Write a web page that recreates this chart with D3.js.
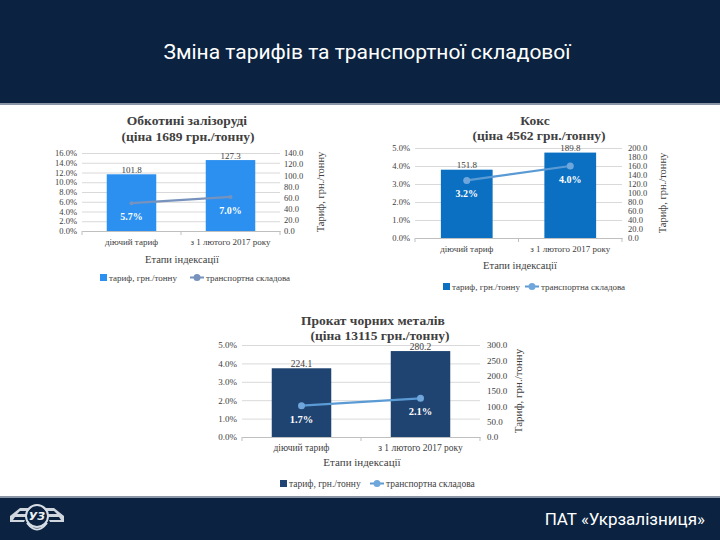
<!DOCTYPE html>
<html><head><meta charset="utf-8">
<script src="https://cdn.jsdelivr.net/npm/d3@7"></script>
<style>
html,body{margin:0;padding:0;background:#fff;}
svg{display:block;}
</style></head>
<body>
<svg id="c" width="720" height="540"></svg>
<script>
// ---------- DATA ----------
const pageTitle = "Зміна тарифів та транспортної складової";
const footerText = "ПАТ «Укрзалізниця»";
const categories = ["діючий тариф", "з 1 лютого 2017 року"];
const xAxisTitle = "Етапи індексації";
const yRightTitle = "Тариф, грн./тонну";
const legendBar = "тариф, грн./тонну";
const legendLine = "транспортна складова";

const titles1 = ["Обкотині залізоруді", "(ціна 1689 грн./тонну)"];
const tariff1 = [101.8, 127.3];
const share1 = [5.7, 7.0];
const leftTicks1 = [0, 2, 4, 6, 8, 10, 12, 14, 16];
const rightTicks1 = [0, 20, 40, 60, 80, 100, 120, 140];

const titles2 = ["Кокс", "(ціна 4562 грн./тонну)"];
const tariff2 = [151.8, 189.8];
const share2 = [3.2, 4.0];
const leftTicks2 = [0, 1, 2, 3, 4, 5];
const rightTicks2 = [0, 20, 40, 60, 80, 100, 120, 140, 160, 180, 200];

const titles3 = ["Прокат чорних металів", "(ціна 13115 грн./тонну)"];
const tariff3 = [224.1, 280.2];
const share3 = [1.7, 2.1];
const leftTicks3 = [0, 1, 2, 3, 4, 5];
const rightTicks3 = [0, 50, 100, 150, 200, 250, 300];

// ---------- PAGE ----------
const svg = d3.select("#c");
const NAVY = "#0b2340";
svg.append("rect").attr("x",0).attr("y",0).attr("width",720).attr("height",103).attr("fill",NAVY);
svg.append("rect").attr("x",0).attr("y",103).attr("width",720).attr("height",2).attr("fill","#8a96a6");
svg.append("text").attr("x",367).attr("y",59).attr("text-anchor","middle")
  .attr("font-family","Roboto, sans-serif").attr("font-size",21).attr("fill","#fff").text(pageTitle);

svg.append("rect").attr("x",0).attr("y",496).attr("width",720).attr("height",2).attr("fill","#8a96a6");
svg.append("rect").attr("x",0).attr("y",498).attr("width",720).attr("height",42).attr("fill",NAVY);
svg.append("text").attr("x",705).attr("y",525).attr("text-anchor","end")
  .attr("font-family","Roboto, sans-serif").attr("font-size",17).attr("fill","#fff").text(footerText);

// logo
const logo = svg.append("g");
logo.append("path").attr("d","M10,516 L20,508 L31,508 L28,511 L20,511 L17,514 L27,514 L26,517 L15,517 L13,520 L25,520 L24,522 L10,522 Z").attr("fill","#cfd6de");
logo.append("path").attr("d","M64,516 L54,508 L43,508 L46,511 L54,511 L57,514 L47,514 L48,517 L59,517 L61,520 L49,520 L50,522 L64,522 Z").attr("fill","#cfd6de");
logo.append("circle").attr("cx",37).attr("cy",516).attr("r",11).attr("fill","none").attr("stroke","#d7dde4").attr("stroke-width",2);
logo.append("path").attr("d","M27,523 Q37,536 47,523").attr("fill","none").attr("stroke","#d7dde4").attr("stroke-width",2);
logo.append("text").attr("x",37).attr("y",520).attr("text-anchor","middle").attr("font-family","DejaVu Sans, sans-serif")
  .attr("font-weight","bold").attr("font-style","italic").attr("font-size",11).attr("fill","#eef1f4").text("УЗ");

// ---------- CHART ----------
const SERIF = "'Liberation Serif', 'Times New Roman', serif";
const TXT = "#404040";

function drawChart(cfg, titles, tariff, share, leftTicks, rightTicks) {
  const g = svg.append("g");
  const x = d3.scaleBand().domain(categories).range([cfg.x0, cfg.x1]).paddingInner(0.5).paddingOuter(0.25);
  const xc = d3.scalePoint().domain(categories).range([cfg.x0, cfg.x1]).padding(0.5);
  const yL = d3.scaleLinear().domain([0, d3.max(leftTicks)]).range([cfg.yb, cfg.yt]);
  const yR = d3.scaleLinear().domain([0, d3.max(rightTicks)]).range([cfg.yb, cfg.yt]);

  // gridlines + left axis
  const ax = g.append("g").attr("transform", `translate(${cfg.x0},0)`)
    .call(d3.axisLeft(yL).tickValues(leftTicks).tickSize(-(cfg.x1 - cfg.x0)).tickPadding(5)
      .tickFormat(d => d.toFixed(1) + "%"));
  ax.select(".domain").remove();
  ax.selectAll(".tick line").attr("stroke", "#d9d9d9").attr("stroke-width", 1);
  ax.selectAll(".tick text").attr("font-family", SERIF).attr("font-size", cfg.fs).attr("fill", TXT);

  // right axis
  const ar = g.append("g").attr("transform", `translate(${cfg.x1},0)`)
    .call(d3.axisRight(yR).tickValues(rightTicks).tickSize(0).tickPadding(cfg.rpad).tickFormat(d => d.toFixed(1)));
  ar.select(".domain").remove();
  ar.selectAll(".tick text").attr("font-family", SERIF).attr("font-size", cfg.fs).attr("fill", TXT);

  // bars
  g.selectAll("rect.bar").data(tariff).join("rect").attr("class","bar")
    .attr("x", (d,i) => x(categories[i])).attr("width", x.bandwidth())
    .attr("y", d => yR(d)).attr("height", d => yR(0) - yR(d)).attr("fill", cfg.barColor);

  // bottom axis
  const ab = g.append("g").attr("transform", `translate(0,${cfg.yb})`)
    .call(d3.axisBottom(x).tickValues([]).tickSizeOuter(0));
  ab.select(".domain").attr("stroke", "#bfbfbf");
  [cfg.x0, (cfg.x0 + cfg.x1) / 2, cfg.x1].forEach(t =>
    g.append("line").attr("x1", t).attr("x2", t).attr("y1", cfg.yb).attr("y2", cfg.yb + 4).attr("stroke", "#bfbfbf"));
  g.selectAll("text.cat").data(categories).join("text").attr("class","cat")
    .attr("x", d => xc(d)).attr("y", cfg.yb + 14).attr("text-anchor","middle")
    .attr("font-family", SERIF).attr("font-size", cfg.fsCat).attr("fill", TXT).text(d => d);

  // bar labels
  g.selectAll("text.bl").data(tariff).join("text").attr("class","bl")
    .attr("x", (d,i) => xc(categories[i])).attr("y", d => yR(d) - 1.5).attr("text-anchor","middle")
    .attr("font-family", SERIF).attr("font-size", cfg.fs + 0.5).attr("fill", TXT).text(d => d.toFixed(1));

  // line
  const line = d3.line().x((d,i) => xc(categories[i])).y(d => yL(d));
  g.append("path").datum(share).attr("d", line).attr("fill","none").attr("stroke", cfg.lineColor).attr("stroke-width", 2.2);
  g.selectAll("circle.pt").data(share).join("circle").attr("class","pt")
    .attr("cx", (d,i) => xc(categories[i])).attr("cy", d => yL(d)).attr("r", cfg.mr)
    .attr("fill", cfg.markerColor);
  g.selectAll("text.pl").data(share).join("text").attr("class","pl")
    .attr("x", (d,i) => xc(categories[i])).attr("y", d => yL(d) + 17).attr("text-anchor","middle")
    .attr("font-family", SERIF).attr("font-weight","bold").attr("font-size", cfg.fs + 1.5).attr("fill", "#fff")
    .text(d => d.toFixed(1) + "%");

  // titles
  titles.forEach((t, i) => g.append("text").attr("x", cfg.tx[i]).attr("y", cfg.ty[i]).attr("text-anchor","middle")
    .attr("font-family", SERIF).attr("font-weight","bold").attr("font-size", 13.5).attr("fill", TXT).text(t));

  // right axis title
  g.append("text").attr("transform", `translate(${cfg.rtx},${(cfg.yt + cfg.yb) / 2}) rotate(-90)`)
    .attr("text-anchor","middle").attr("dy","0.35em").attr("font-family", SERIF).attr("font-size", cfg.fsTitle)
    .attr("fill", TXT).text(yRightTitle);

  // x axis title
  g.append("text").attr("x", cfg.axtx).attr("y", cfg.axty).attr("text-anchor","middle")
    .attr("font-family", SERIF).attr("font-size", cfg.fsTitle).attr("fill", TXT).text(xAxisTitle);

  // legend
  g.append("rect").attr("x", cfg.lgx).attr("y", cfg.lgy - 7).attr("width", 7).attr("height", 7).attr("fill", cfg.barColor);
  g.append("text").attr("x", cfg.lgx + 9).attr("y", cfg.lgy).attr("font-family", SERIF).attr("font-size", cfg.fsCat)
    .attr("fill", TXT).text(legendBar);
  g.append("line").attr("x1", cfg.lmx - 7).attr("x2", cfg.lmx + 7).attr("y1", cfg.lgy - 3.5).attr("y2", cfg.lgy - 3.5)
    .attr("stroke", cfg.lineColor).attr("stroke-width", 2);
  g.append("circle").attr("cx", cfg.lmx).attr("cy", cfg.lgy - 3.5).attr("r", 3.5).attr("fill", cfg.markerColor);
  g.append("text").attr("x", cfg.lmx + 9).attr("y", cfg.lgy).attr("font-family", SERIF).attr("font-size", cfg.fsCat)
    .attr("fill", TXT).text(legendLine);
}

drawChart({x0:82, x1:280, yt:153, yb:231, fs:8.5, fsCat:9, fsTitle:10.5, rpad:4,
  barColor:"#2b90f0", lineColor:"#7793bd", markerColor:"#7793bd", mr:2,
  tx:[187,188], ty:[125,141], rtx:320, axtx:182, axty:263, lgx:100, lmx:197, lgy:281},
  titles1, tariff1, share1, leftTicks1, rightTicks1);

drawChart({x0:415, x1:622, yt:148, yb:238, fs:8.5, fsCat:9, fsTitle:10.5, rpad:6,
  barColor:"#0b70c2", lineColor:"#5b9bd5", markerColor:"#6fa7dc", mr:3.5,
  tx:[535,539], ty:[125,140], rtx:662, axtx:520, axty:269, lgx:443, lmx:532, lgy:290},
  titles2, tariff2, share2, leftTicks2, rightTicks2);

drawChart({x0:242, x1:480, yt:345, yb:437, fs:9, fsCat:9.5, fsTitle:11, rpad:7,
  barColor:"#1f4471", lineColor:"#5b9bd5", markerColor:"#6fa7dc", mr:3.5,
  tx:[373,380], ty:[325,340], rtx:518, axtx:362, axty:466, lgx:280, lmx:377, lgy:487},
  titles3, tariff3, share3, leftTicks3, rightTicks3);
</script>
</body></html>
